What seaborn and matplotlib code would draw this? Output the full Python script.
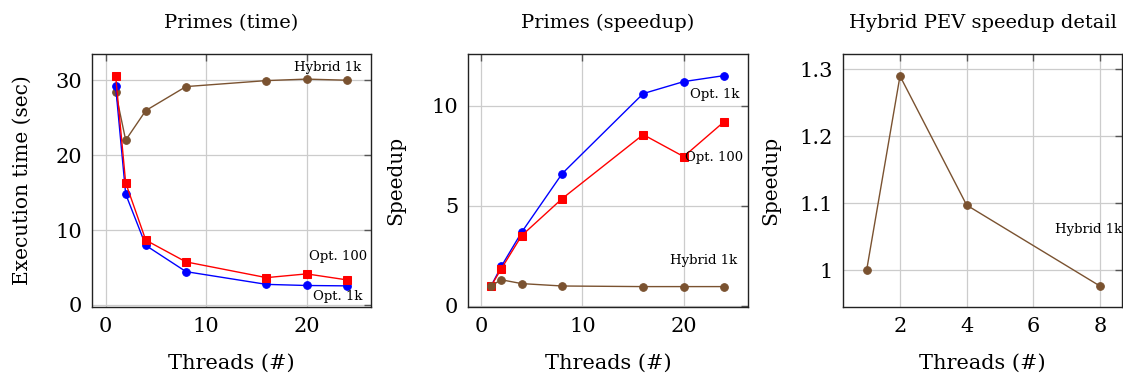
import matplotlib
matplotlib.use("Agg")
import matplotlib.pyplot as plt
import seaborn as sns
import pandas as pd

# ---- data ----
threads = [1, 2, 4, 8, 16, 20, 24]
time_opt1k = [29.2, 14.8, 7.95, 4.45, 2.75, 2.6, 2.55]
time_opt100 = [30.6, 16.3, 8.65, 5.75, 3.65, 4.15, 3.35]
time_hybrid1k = [28.4, 22.0, 25.95, 29.15, 29.95, 30.15, 30.0]

speed_opt1k = [1.0, 1.97, 3.67, 6.6, 10.6, 11.2, 11.5]
speed_opt100 = [1.0, 1.85, 3.5, 5.35, 8.55, 7.45, 9.2]
speed_hybrid1k = [1.0, 1.29, 1.1, 0.98, 0.95, 0.95, 0.95]

detail_threads = [1, 2, 4, 8]
detail_hybrid1k = [1.0, 1.29, 1.097, 0.976]

titles = ["Primes (time)", "Primes (speedup)", "Hybrid PEV speedup detail"]
ylabels = ["Execution time (sec)", "Speedup", "Speedup"]
xlabel = "Threads (#)"

BLUE = "#0000ff"
RED = "#ff0000"
BROWN = "#7a5230"

sns.set_style("white")
plt.rcParams["font.family"] = ["DejaVu Serif"]
plt.rcParams["text.color"] = "black"
plt.rcParams["axes.labelcolor"] = "black"
plt.rcParams["xtick.labelcolor"] = "black"
plt.rcParams["ytick.labelcolor"] = "black"

fig = plt.figure(figsize=(11.23, 3.80), dpi=100)
W, H = 1123, 380
boxes = [(92, 371), (468, 748), (843, 1122)]
top, bottom = 54, 307
axes = [fig.add_axes([l / W, (H - bottom) / H, (r - l) / W, (bottom - top) / H]) for l, r in boxes]


def draw(ax, x, y, color, marker, ms):
    sns.lineplot(x=x, y=y, ax=ax, color=color, marker=marker, markersize=ms,
                 markeredgecolor=color, linewidth=1.0, errorbar=None, legend=False)


ax = axes[0]
draw(ax, threads, time_hybrid1k, BROWN, "o", 5.5)
draw(ax, threads, time_opt1k, BLUE, "o", 5.5)
draw(ax, threads, time_opt100, RED, "s", 5.5)
ax.set_xlim(-1.35, 26.4)
ax.set_ylim(-0.27, 33.5)
ax.set_xticks([0, 10, 20])
ax.set_yticks([0, 10, 20, 30])
ax.text(0.964, 0.945, "Hybrid 1k", transform=ax.transAxes, ha="right", va="center", fontsize=9.5)
ax.text(0.986, 0.198, "Opt. 100", transform=ax.transAxes, ha="right", va="center", fontsize=9.5)
ax.text(0.971, 0.04, "Opt. 1k", transform=ax.transAxes, ha="right", va="center", fontsize=9.5)

ax = axes[1]
draw(ax, threads, speed_opt1k, BLUE, "o", 5.5)
draw(ax, threads, speed_opt100, RED, "s", 5.5)
draw(ax, threads, speed_hybrid1k, BROWN, "o", 5.5)
ax.set_xlim(-1.3, 26.35)
ax.set_ylim(-0.07, 12.58)
ax.set_xticks([0, 10, 20])
ax.set_yticks([0, 5, 10])
ax.text(0.968, 0.838, "Opt. 1k", transform=ax.transAxes, ha="right", va="center", fontsize=9.5)
ax.text(0.982, 0.589, "Opt. 100", transform=ax.transAxes, ha="right", va="center", fontsize=9.5)
ax.text(0.961, 0.182, "Hybrid 1k", transform=ax.transAxes, ha="right", va="center", fontsize=9.5)

ax = axes[2]
draw(ax, detail_threads, detail_hybrid1k, BROWN, "o", 5.5)
ax.set_xlim(0.29, 8.66)
ax.set_ylim(0.9447, 1.3229)
ax.set_xticks([2, 4, 6, 8])
ax.set_yticks([1.0, 1.1, 1.2, 1.3])
ax.set_yticklabels(["1", "1.1", "1.2", "1.3"])
ax.text(1.0, 0.308, "Hybrid 1k", transform=ax.transAxes, ha="right", va="center", fontsize=9.5)

ypads = [17, 19, 14]
for ax, t, yl, yp in zip(axes, titles, ylabels, ypads):
    ax.set_title(t, fontsize=14, pad=19, color="black")
    ax.set_xlabel(xlabel, fontsize=15, labelpad=13)
    ax.set_ylabel(yl, fontsize=14.5, labelpad=yp)
    ax.grid(True, color="#cccccc", linewidth=0.9)
    ax.set_axisbelow(True)
    ax.tick_params(axis="both", which="both", direction="in", length=5, width=1.0,
                   color="#555555", labelsize=15, pad=7, top=True, right=True,
                   labelcolor="black")
    for s in ax.spines.values():
        s.set_color("#222222")
        s.set_linewidth(1.0)

fig.savefig("out.png", dpi=100)
